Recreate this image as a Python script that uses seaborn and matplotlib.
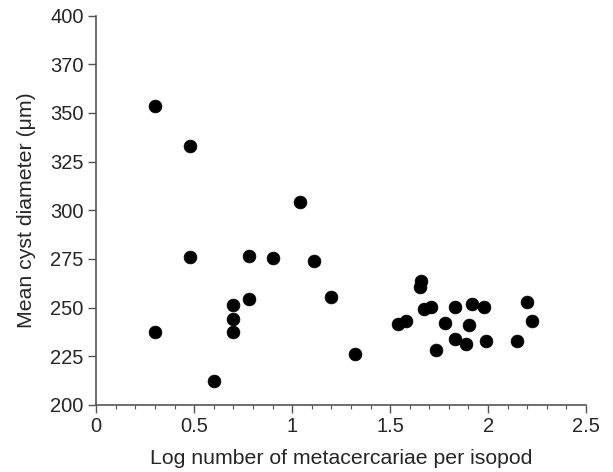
import matplotlib
matplotlib.use("Agg")
import matplotlib.pyplot as plt
import seaborn as sns
import pandas as pd
from matplotlib.ticker import MultipleLocator

log_metacercariae = [
    0.30, 0.30, 0.48, 0.48, 0.60, 0.70, 0.70, 0.70, 0.78, 0.78, 0.90,
    1.04, 1.11, 1.20, 1.32,
    1.54, 1.58, 1.656, 1.651, 1.673, 1.711, 1.733, 1.779, 1.83, 1.83,
    1.901, 1.889, 1.918, 1.978, 1.988, 2.147, 2.198, 2.226,
]
cyst_diameter = [
    353.6, 237.7, 333.1, 276.2, 212.5, 251.3, 244.1, 237.6, 276.7, 254.3, 275.7,
    304.3, 273.8, 255.5, 226.0,
    241.6, 243.3, 263.7, 260.4, 249.5, 250.5, 228.3, 242.3, 250.5, 234.1,
    241.1, 231.4, 251.7, 250.5, 232.9, 232.9, 252.9, 243.3,
]
x_ticks = [0, 0.5, 1, 1.5, 2, 2.5]
x_tick_labels = ["0", "0.5", "1", "1.5", "2", "2.5"]
y_ticks = [200, 225, 250, 275, 300, 325, 350, 375, 400]
y_tick_labels = ["200", "225", "250", "275", "300", "325", "350", "370", "400"]

df = pd.DataFrame({"x": log_metacercariae, "y": cyst_diameter})

sns.set_style("ticks")
plt.rcParams["font.family"] = ["Liberation Sans", "DejaVu Sans"]

fig = plt.figure(figsize=(6.13, 4.72), dpi=100)
ax = fig.add_axes([0.157, 0.142, 0.799, 0.825])
sns.scatterplot(data=df, x="x", y="y", ax=ax, color="black", s=85,
                edgecolor="black", linewidth=0.5)

ax.set_xlim(0, 2.5)
ax.set_ylim(200, 400)
ax.set_xticks(x_ticks)
ax.set_xticklabels(x_tick_labels)
ax.set_yticks(y_ticks)
ax.set_yticklabels(y_tick_labels)
ax.xaxis.set_minor_locator(MultipleLocator(0.1))
ax.tick_params(axis="both", which="major", labelsize=14.5, length=6, width=1,
               color="#555555", direction="out", pad=3)
ax.tick_params(axis="x", which="minor", length=3, width=0.8, color="#555555", direction="out")
ax.set_xlabel("Log number of metacercariae per isopod", fontsize=15.3, labelpad=9)
ax.set_ylabel("Mean cyst diameter (μm)", fontsize=15.3, labelpad=10)
for side in ["top", "right"]:
    ax.spines[side].set_visible(False)
for side in ["left", "bottom"]:
    ax.spines[side].set_color("#555555")
    ax.spines[side].set_linewidth(1.2)

fig.savefig("out.png", dpi=100)
